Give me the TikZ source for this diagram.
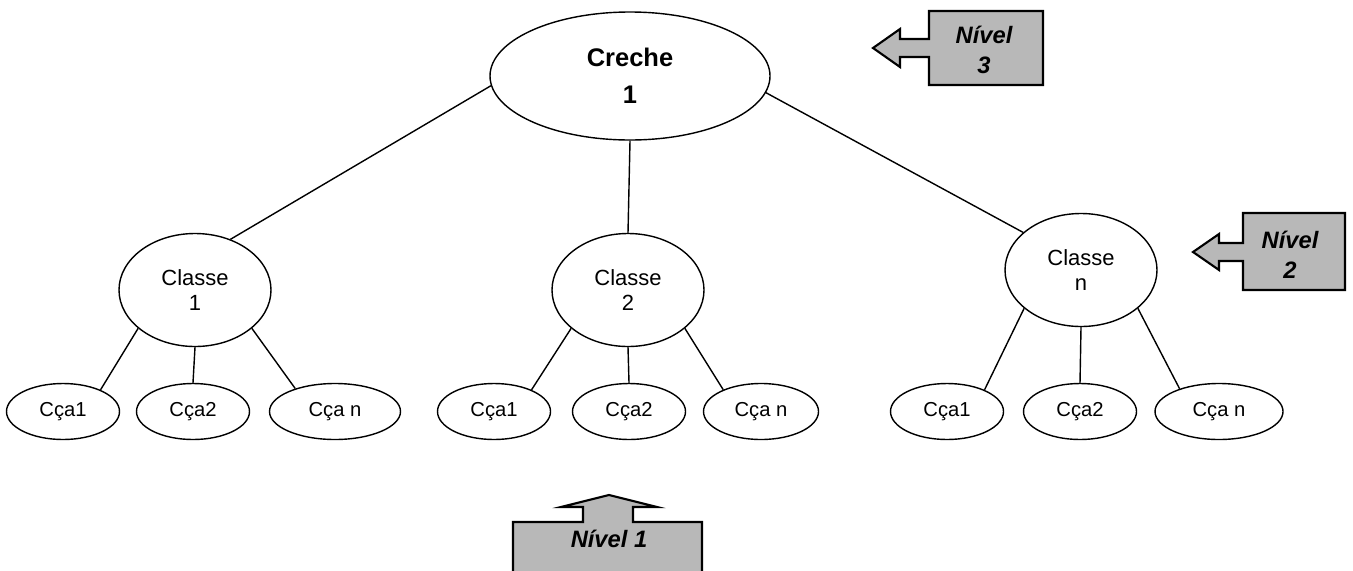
\documentclass[tikz,border=0pt]{standalone}
\usepackage{fontspec}
\setmainfont{Liberation Sans}
\usetikzlibrary{shapes.geometric}

\begin{document}
\begin{tikzpicture}[
  top/.style={draw,ellipse,line width=0.8pt,inner sep=0pt,minimum width=5.6cm,minimum height=2.56cm,
    font=\fontsize{14.5}{21}\selectfont\bfseries,align=center},
  classe/.style={draw,ellipse,line width=0.8pt,inner sep=0pt,minimum width=3.04cm,minimum height=2.26cm,
    font=\fontsize{12.5}{14.2}\selectfont,align=center},
  leaf/.style={draw,ellipse,line width=0.8pt,inner sep=0pt,minimum width=2.26cm,minimum height=1.12cm,
    font=\fontsize{11.5}{13}\selectfont},
  link/.style={line width=0.8pt},
  callout/.style={draw,line width=1.2pt,fill=black!28},
  tag/.style={font=\fontsize{13.5}{17}\selectfont\bfseries\itshape,align=center}
]
  \clip (0,0) rectangle (27.06,-11.4);

  % Creche
  \node[top] (creche) at (12.6,-1.52) {Creche\\1};

  % classes
  \node[classe] (cl1) at (3.9,-5.8) {Classe\\1};
  \node[classe] (cl2) at (12.56,-5.8) {Classe\\2};
  \node[classe] (cln) at (21.62,-5.4) {Classe\\n};

  % criancas
  \node[leaf] (cc11) at (1.26,-8.23) {Cça1};
  \node[leaf] (cc12) at (3.86,-8.23) {Cça2};
  \node[leaf,minimum width=2.62cm] (cc1n) at (6.7,-8.23) {Cça n};

  \node[leaf] (cc21) at (9.88,-8.23) {Cça1};
  \node[leaf] (cc22) at (12.58,-8.23) {Cça2};
  \node[leaf,minimum width=2.3cm] (cc2n) at (15.22,-8.23) {Cça n};

  \node[leaf] (cc31) at (18.94,-8.23) {Cça1};
  \node[leaf] (cc32) at (21.6,-8.23) {Cça2};
  \node[leaf,minimum width=2.56cm] (cc3n) at (24.38,-8.23) {Cça n};

  % links
  \draw[link] (creche.184) -- (cl1.55);
  \draw[link] (creche.south) -- (cl2.north);
  \draw[link] (creche.353) -- (cln.147);

  \draw[link] (cl1.214) -- (cc11.30);
  \draw[link] (cl1.south) -- (cc12.north);
  \draw[link] (cl1.326) -- (cc1n.150);

  \draw[link] (cl2.214) -- (cc21.30);
  \draw[link] (cl2.south) -- (cc22.north);
  \draw[link] (cl2.326) -- (cc2n.150);

  \draw[link] (cln.214) -- (cc31.30);
  \draw[link] (cln.south) -- (cc32.north);
  \draw[link] (cln.326) -- (cc3n.150);

  % Nivel 3
  \draw[callout] (18.58,-0.22) -- (20.86,-0.22) -- (20.86,-1.70) -- (18.58,-1.70) -- (18.58,-1.14)
    -- (18.0,-1.14) -- (18.0,-1.34) -- (17.46,-0.96) -- (18.0,-0.58) -- (18.0,-0.78) -- (18.58,-0.78) -- cycle;
  \node[tag] (niv3) at (19.68,-1.0) {Nível\\3};

  % Nivel 2
  \draw[callout] (24.86,-4.26) -- (26.9,-4.26) -- (26.9,-5.8) -- (24.86,-5.8) -- (24.86,-5.22)
    -- (24.38,-5.22) -- (24.38,-5.4) -- (23.86,-5.04) -- (24.38,-4.68) -- (24.38,-4.86) -- (24.86,-4.86) -- cycle;
  \node[tag] (niv2) at (25.8,-5.1) {Nível\\2};

  % Nivel 1
  \draw[callout] (11.66,-10.44) -- (10.26,-10.44) -- (10.26,-11.5) -- (14.04,-11.5) -- (14.04,-10.44)
    -- (12.66,-10.44) -- (12.66,-10.14) -- (13.14,-10.14) -- (12.18,-9.9) -- (11.22,-10.14) -- (11.66,-10.14) -- cycle;
  \node[tag] (niv1) at (12.18,-10.78) {Nível 1};
\end{tikzpicture}
\end{document}
